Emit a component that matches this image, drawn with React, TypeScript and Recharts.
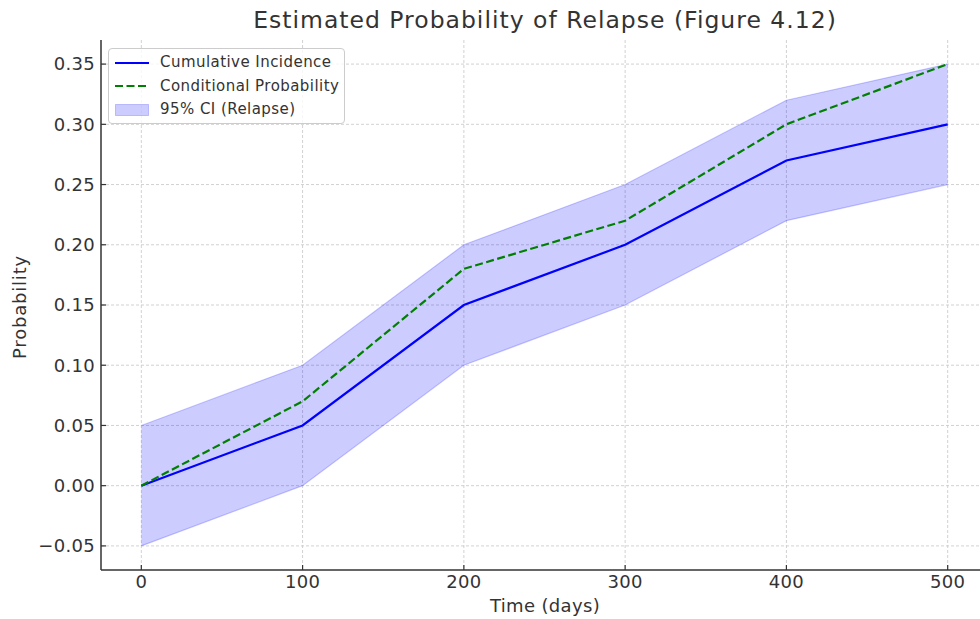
import React from 'react';
import { ComposedChart, Line, Area, XAxis, YAxis, CartesianGrid } from 'recharts';

const days = [0, 100, 200, 300, 400, 500];
const cumulativeIncidence = [0, 0.05, 0.15, 0.2, 0.27, 0.3];
const conditionalProbability = [0, 0.07, 0.18, 0.22, 0.3, 0.35];
const ciLower = [-0.05, 0, 0.1, 0.15, 0.22, 0.25];
const ciUpper = [0.05, 0.1, 0.2, 0.25, 0.32, 0.35];

const xTicks = [0, 100, 200, 300, 400, 500];
const yTicks = [-0.05, 0, 0.05, 0.1, 0.15, 0.2, 0.25, 0.3, 0.35];

const data = days.map((day, i) => ({
  day,
  cumulative: cumulativeIncidence[i],
  conditional: conditionalProbability[i],
  ci: [ciLower[i], ciUpper[i]],
}));

const FONT = '"DejaVu Sans", sans-serif';
const TEXT = '#333333';

const fmtY = (v: number) => {
  const s = Math.abs(v).toFixed(2);
  return v < -1e-9 ? '\u2212' + s : s;
};

const legendItems = [
  { label: 'Cumulative Incidence', kind: 'solid' },
  { label: 'Conditional Probability', kind: 'dash' },
  { label: '95% CI (Relapse)', kind: 'fill' },
];

const LegendBox = () => (
  <div
    style={{
      position: 'absolute',
      left: 108,
      top: 48,
      width: 237,
      height: 76,
      boxSizing: 'border-box',
      border: '1px solid #cccccc',
      borderRadius: 4,
      background: 'rgba(255,255,255,0.8)',
      padding: '2px 0 0 6px',
      fontFamily: FONT,
      fontSize: 15,
      letterSpacing: 0.45,
      color: TEXT,
      lineHeight: '23.5px',
    }}
  >
    {legendItems.map((it) => (
      <div key={it.label} style={{ display: 'flex', alignItems: 'center' }}>
        <svg width={34} height={14} style={{ marginRight: 11 }}>
          {it.kind === 'solid' && (
            <line x1={0} y1={7} x2={34} y2={7} stroke="#0000ff" strokeWidth={2.2} />
          )}
          {it.kind === 'dash' && (
            <line
              x1={0}
              y1={7}
              x2={34}
              y2={7}
              stroke="#008000"
              strokeWidth={2.2}
              strokeDasharray="8 3.5"
            />
          )}
          {it.kind === 'fill' && (
            <rect
              x={0.5}
              y={1.5}
              width={33}
              height={11}
              fill="rgba(0,0,255,0.2)"
              stroke="rgba(0,0,255,0.2)"
            />
          )}
        </svg>
        <span>{it.label}</span>
      </div>
    ))}
  </div>
);

export default function App() {
  return (
    <div
      style={{
        position: 'absolute',
        left: 0,
        top: 0,
        width: 980,
        height: 619,
        overflow: 'hidden',
        background: '#ffffff',
      }}
    >
      <ComposedChart
        width={1000}
        height={619}
        data={data}
        margin={{ top: 40, right: 12, left: 0, bottom: 0 }}
      >
        <CartesianGrid
          stroke="#cccccc"
          strokeDasharray="3 2"
          strokeWidth={0.9}
          horizontalValues={yTicks}
          verticalValues={xTicks}
        />
        <XAxis
          dataKey="day"
          type="number"
          domain={[-25, 525]}
          ticks={xTicks}
          allowDataOverflow
          height={49}
          tickSize={-5}
          tickMargin={10}
          axisLine={{ stroke: TEXT, strokeWidth: 1.5 }}
          tickLine={{ stroke: TEXT, strokeWidth: 1.2 }}
          tick={{ fill: TEXT, fontSize: 18, letterSpacing: 0.3, fontFamily: FONT }}
          label={{
            content: () => (
              <text
                x={545}
                y={612}
                textAnchor="middle"
                fill={TEXT}
                fontSize={18}
                letterSpacing={0.35}
                fontFamily={FONT}
              >
                Time (days)
              </text>
            ),
          }}
        />
        <YAxis
          type="number"
          domain={[-0.07, 0.37]}
          ticks={yTicks}
          allowDataOverflow
          width={101}
          tickSize={-5}
          tickMargin={11}
          tickFormatter={fmtY}
          axisLine={{ stroke: TEXT, strokeWidth: 1.5 }}
          tickLine={{ stroke: TEXT, strokeWidth: 1.2 }}
          tick={{ fill: TEXT, fontSize: 18, letterSpacing: 0.3, fontFamily: FONT }}
          label={{
            content: () => (
              <text
                x={26}
                y={307}
                transform="rotate(-90 26 307)"
                textAnchor="middle"
                fill={TEXT}
                fontSize={18}
                letterSpacing={0.8}
                fontFamily={FONT}
              >
                Probability
              </text>
            ),
          }}
        />
        <Area
          dataKey="ci"
          type="linear"
          fill="#0000ff"
          fillOpacity={0.2}
          stroke="#0000ff"
          strokeOpacity={0.2}
          strokeWidth={1.2}
          isAnimationActive={false}
          name="95% CI (Relapse)"
        />
        <Line
          dataKey="cumulative"
          type="linear"
          stroke="#0000ff"
          strokeWidth={2.2}
          dot={false}
          activeDot={false}
          isAnimationActive={false}
          name="Cumulative Incidence"
        />
        <Line
          dataKey="conditional"
          type="linear"
          stroke="#008000"
          strokeWidth={2.2}
          strokeDasharray="8 3.5"
          dot={false}
          activeDot={false}
          isAnimationActive={false}
          name="Conditional Probability"
        />
      </ComposedChart>
      <svg
        width={980}
        height={40}
        style={{ position: 'absolute', left: 0, top: 0, pointerEvents: 'none' }}
      >
        <text
          x={545}
          y={28}
          textAnchor="middle"
          fill={TEXT}
          fontSize={23.5}
          letterSpacing={1}
          fontFamily={FONT}
        >
          Estimated Probability of Relapse (Figure 4.12)
        </text>
      </svg>
      <LegendBox />
    </div>
  );
}
